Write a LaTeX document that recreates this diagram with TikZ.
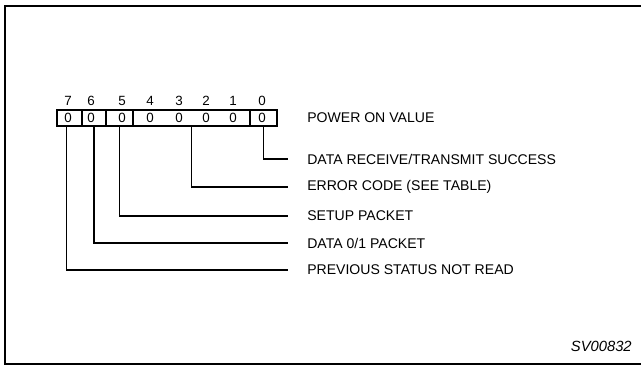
\documentclass[tikz,border=0pt]{standalone}
\usepackage{fontspec}
\setmainfont{Liberation Sans}
\begin{document}
\begin{tikzpicture}[
    x=0.025cm, y=-0.025cm,
    bitbox/.style={rectangle, draw, line width=1.8pt, minimum height=0.4cm, inner sep=0},
    bitnum/.style={inner sep=0, font=\fontsize{9.5}{11}\selectfont},
    bitval/.style={inner sep=0, font=\fontsize{9.5}{11}\selectfont},
    desc/.style={anchor=west, inner sep=0, font=\fontsize{10}{12}\selectfont},
    leader/.style={draw, line width=1pt, shorten >=0.475cm}
]

\clip (0,0) rectangle (641,367);

% Frame
\draw[line width=2pt] (660,6) -- (5,6) -- (5,364) -- (660,364);

% Register boxes
\node[bitbox, minimum width=0.625cm] (b7) at (69.5,118) {};
\node[bitbox, minimum width=0.6cm] (b6) at (94,118) {};
\node[bitbox, minimum width=0.675cm] (b5) at (119.5,118) {};
\node[bitbox, minimum width=2.925cm] (b41) at (191.5,118) {};
\node[bitbox, minimum width=0.675cm] (b0) at (263.5,118) {};

% Bit numbers and power on values
\foreach \x/\b in {68/7, 91/6, 122/5, 150/4, 179/3, 206/2, 233/1, 262/0} {
  \node[bitnum] (n\b) at (\x,101) {\b};
  \node[bitval] (v\b) at (\x,118) {0};
}

% Descriptions
\node[desc] (pwr) at (307,118) {POWER ON VALUE};
\node[desc] (l0) at (307,159) {DATA RECEIVE/TRANSMIT SUCCESS};
\node[desc] (l41) at (307,187) {ERROR CODE (SEE TABLE)};
\node[desc] (l5) at (307,216) {SETUP PACKET};
\node[desc] (l6) at (307,243) {DATA 0/1 PACKET};
\node[desc] (l7) at (307,270) {PREVIOUS STATUS NOT READ};

% Leaders
\draw[leader] (b0.south) |- (l0.west);
\draw[leader] (b41.south) |- (l41.west);
\draw[leader] (b5.south) |- (l5.west);
\draw[leader] (b6.south) |- (l6.west);
\draw[leader] ([xshift=-0.08cm]b7.south) |- (l7.west);

% Figure number
\node[anchor=south east, inner sep=0, font=\fontsize{10.5}{12}\selectfont\itshape] (fig) at (632,352) {SV00832};

\end{tikzpicture}
\end{document}
